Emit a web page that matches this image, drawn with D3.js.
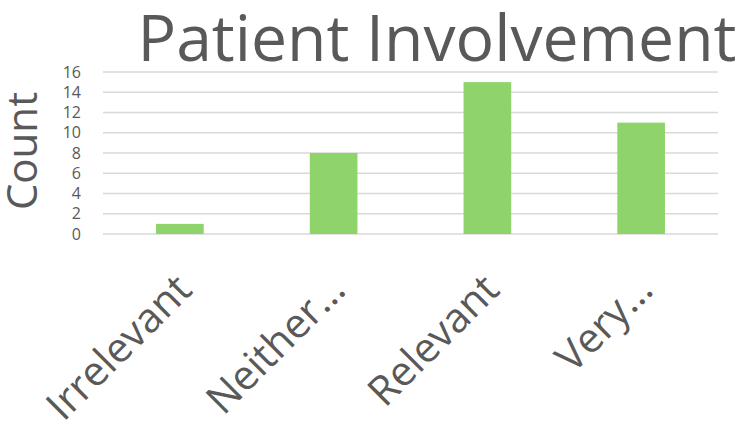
<!DOCTYPE html>
<html>
<head>
<meta charset="utf-8">
<script src="https://cdn.jsdelivr.net/npm/d3@7"></script>
<style>
    body { margin: 0; background: #fff; }
    text { font-family: "Open Sans", "Noto Sans", sans-serif; fill: #595959; }
</style>
</head>
<body>
<div id="chart"></div>
<script>
const categories = ["Irrelevant", "Neither…", "Relevant", "Very…"];
const counts = [1, 8, 15, 11];
const yTicks = [0, 2, 4, 6, 8, 10, 12, 14, 16];

const W = 741, H = 430;
const margin = {top: 72, right: 23, bottom: 196, left: 103},
    width = W - margin.left - margin.right,
    height = H - margin.top - margin.bottom;

const svg = d3.select("#chart").append("svg")
    .attr("width", W)
    .attr("height", H);

const g = svg.append("g")
    .attr("transform", "translate(" + margin.left + "," + margin.top + ")");

const x = d3.scaleBand()
    .domain(categories)
    .range([0, width])
    .paddingInner(0.69)
    .paddingOuter(0.345);

const y = d3.scaleLinear()
    .domain([0, 16])
    .range([height, 0]);

// gridlines
g.selectAll(".grid")
    .data(yTicks)
    .enter().append("line")
    .attr("x1", 0)
    .attr("x2", width)
    .attr("y1", d => y(d))
    .attr("y2", d => y(d))
    .attr("stroke", "#d9d9d9")
    .attr("stroke-width", 1.5);

// y tick labels
const yAxis = d3.axisLeft(y).tickValues(yTicks).tickSize(0).tickPadding(22);
const ya = g.append("g").call(yAxis);
ya.select(".domain").remove();
ya.selectAll("text")
    .style("font-size", "16px")
    .attr("fill", "#595959");

// bars
g.selectAll(".bar")
    .data(counts)
    .enter().append("rect")
    .attr("class", "bar")
    .attr("x", (d, i) => x(categories[i]))
    .attr("width", x.bandwidth())
    .attr("y", d => y(d))
    .attr("height", d => height - y(d))
    .attr("fill", "#8fd46a");

// x labels rotated
g.selectAll(".xlab")
    .data(categories)
    .enter().append("text")
    .attr("class", "xlab")
    .attr("text-anchor", "end")
    .attr("transform", d => "translate(" + (x(d) + x.bandwidth() / 2 + 14) + "," + (height + 58) + ") rotate(-45)")
    .style("font-size", "41px")
    .text(d => d);

// title
svg.append("text")
    .attr("x", 437)
    .attr("y", 61)
    .attr("text-anchor", "middle")
    .attr("textLength", 599)
    .attr("lengthAdjust", "spacingAndGlyphs")
    .style("font-size", "64px")
    .text("Patient Involvement");

// y axis title
svg.append("text")
    .attr("transform", "translate(37," + (margin.top + height / 2 - 2) + ") rotate(-90)")
    .attr("text-anchor", "middle")
    .style("font-size", "42px")
    .text("Count");
</script>
</body>
</html>
